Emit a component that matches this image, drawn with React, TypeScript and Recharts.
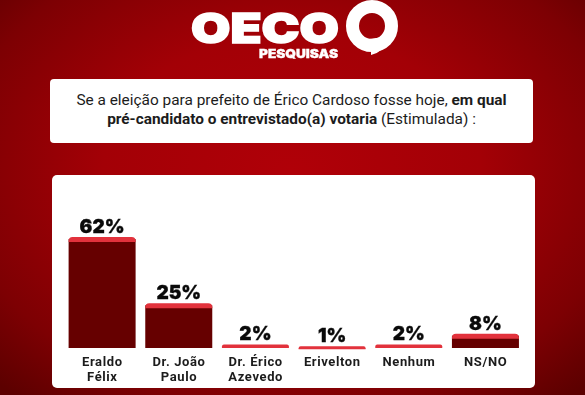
import React from "react";
import { BarChart, Bar, XAxis, YAxis, LabelList } from "recharts";

const categories = ["Eraldo\nFélix", "Dr. João\nPaulo", "Dr. Érico\nAzevedo", "Erivelton", "Nenhum", "NS/NO"];
const values = [62, 25, 2, 1, 2, 8];
const chartData = categories.map((name, i) => ({ name, value: values[i] }));

const DARK = "#660000";
const RED = "#e2323c";
const FONT = "Roboto, sans-serif";

const CappedBar = (props: any) => {
  const { x, y, width, height } = props;
  const capH = Math.min(5, Math.max(height, 3));
  const r = capH >= 4 ? 4 : 2;
  return (
    <g>
      {height > capH && <rect x={x} y={y + 2} width={width} height={height - 2} fill={DARK} />}
      <path
        d={`M${x},${y + capH} L${x},${y + r} Q${x},${y} ${x + r},${y} L${x + width - r},${y} Q${x + width},${y} ${x + width},${y + r} L${x + width},${y + capH} Z`}
        fill={RED}
      />
    </g>
  );
};

const CategoryTick = (props: any) => {
  const { x, y, payload } = props;
  const lines = String(payload.value).split("\n");
  return (
    <text x={x} textAnchor="middle" fontFamily={FONT} fontWeight={700} fontSize={13} letterSpacing={0.6} fill="#1c1c1c">
      {lines.map((l, i) => (
        <tspan key={i} x={x} y={y + 9.5 + i * 15.5}>
          {l}
        </tspan>
      ))}
    </text>
  );
};

const Box = ({ style, children }: any) => (
  <div style={{ position: "absolute", boxSizing: "border-box", ...style }}>{children}</div>
);

export default function App() {
  return (
    <div
      style={{
        position: "fixed",
        left: 0,
        top: 0,
        width: 585,
        height: 395,
        overflow: "hidden",
        background:
          "radial-gradient(ellipse 420px 300px at 292px 170px, #b00008 0%, #a30006 45%, #7d0003 80%, #5c0000 100%)",
      }}
    >
      <svg width={585} height={70} style={{ position: "absolute", left: 0, top: 0 }}>
        <text
          x={191}
          y={43}
          fontFamily="Inter, Roboto, sans-serif"
          fontWeight={900}
          fontSize={41}
          fill="#fff"
          stroke="#fff"
          strokeWidth={1.5}
          textLength={148}
          lengthAdjust="spacingAndGlyphs"
        >
          OECO
        </text>
        <text
          x={259}
          y={57.5}
          fontFamily="Inter, Roboto, sans-serif"
          fontWeight={900}
          fontSize={11.5}
          fill="#fff"
          stroke="#fff"
          strokeWidth={0.3}
          textLength={79}
          lengthAdjust="spacingAndGlyphs"
        >
          PESQUISAS
        </text>
        <circle cx={372} cy={26} r={19.5} fill="none" stroke="#fff" strokeWidth={13} />
        <path d="M361,40 L371,45 L371,55 Q384,52 392,36 Z" fill="#fff" />
      </svg>

      <Box
        style={{
          left: 50,
          top: 79,
          width: 483,
          height: 64,
          background: "#fff",
          borderRadius: 4,
          fontFamily: FONT,
          fontSize: 15.4,
          lineHeight: "19px",
          color: "#1c1c1c",
          textAlign: "center",
          paddingTop: 12,
          whiteSpace: "nowrap",
        }}
      >
        Se a eleição para prefeito de Érico Cardoso fosse hoje, <b>em qual</b>
        <br />
        <b>pré-candidato o entrevistado(a) votaria</b> (Estimulada) :
      </Box>

      <Box style={{ left: 52, top: 175, width: 483, height: 213, background: "#fff", borderRadius: 5 }} />

      <div style={{ position: "absolute", left: 0, top: 0 }}>
        <BarChart
          width={585}
          height={395}
          data={chartData}
          margin={{ top: 179, right: 61, bottom: 0, left: 64 }}
          barCategoryGap="6%"
        >
          <XAxis dataKey="name" interval={0} axisLine={false} tickLine={false} tick={<CategoryTick />} height={47} />
          <YAxis hide domain={[0, 94.4]} />
          <Bar dataKey="value" isAnimationActive={false} shape={<CappedBar />}>
            <LabelList
              dataKey="value"
              position="top"
              offset={4}
              formatter={(v: any) => `${v}%`}
              style={{ fontFamily: "Inter, Roboto, sans-serif", fontWeight: 900, fontSize: 19, fill: "#0a0a0a", stroke: "#0a0a0a", strokeWidth: 0.3 }}
            />
          </Bar>
        </BarChart>
      </div>
    </div>
  );
}
